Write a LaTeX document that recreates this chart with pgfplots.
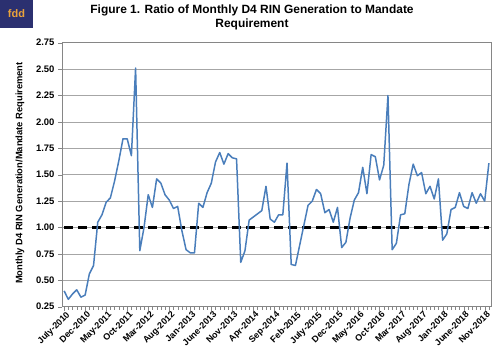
\documentclass[border=0pt]{standalone}
\usepackage{pgfplots}
\pgfplotsset{compat=1.18}
\usepackage{fontspec}
\setmainfont{Liberation Sans}
\definecolor{lineblue}{HTML}{4A7EBB}
\definecolor{gridgray}{HTML}{A6A6A6}
\definecolor{framegray}{HTML}{868686}
\definecolor{logonavy}{HTML}{2B3070}
\definecolor{logoorange}{HTML}{E9A23B}
\pgfplotstableread{
i val
0 0.40
1 0.32
2 0.37
3 0.41
4 0.34
5 0.36
6 0.56
7 0.64
8 1.05
9 1.12
10 1.24
11 1.28
12 1.44
13 1.63
14 1.84
15 1.84
16 1.68
17 2.51
18 0.78
19 1.00
20 1.31
21 1.19
22 1.46
23 1.42
24 1.31
25 1.26
26 1.18
27 1.20
28 0.97
29 0.79
30 0.76
31 0.76
32 1.23
33 1.19
34 1.33
35 1.42
36 1.62
37 1.71
38 1.60
39 1.70
40 1.66
41 1.65
42 0.67
43 0.78
44 1.07
45 1.10
46 1.13
47 1.16
48 1.39
49 1.08
50 1.05
51 1.12
52 1.12
53 1.61
54 0.65
55 0.64
56 0.83
57 1.02
58 1.21
59 1.25
60 1.36
61 1.32
62 1.14
63 1.17
64 1.05
65 1.19
66 0.81
67 0.86
68 1.09
69 1.26
70 1.33
71 1.57
72 1.32
73 1.69
74 1.67
75 1.45
76 1.59
77 2.25
78 0.79
79 0.85
80 1.12
81 1.13
82 1.41
83 1.60
84 1.49
85 1.52
86 1.32
87 1.39
88 1.27
89 1.46
90 0.88
91 0.94
92 1.17
93 1.19
94 1.33
95 1.20
96 1.18
97 1.33
98 1.23
99 1.32
100 1.25
101 1.61
}\ratio
\begin{document}
\begin{tikzpicture}
\path[use as bounding box] (0bp,0bp) rectangle (500bp,359bp);
\fill[logonavy] (0bp,331bp) rectangle (33bp,359bp);
\node[text=logoorange, font=\bfseries\fontsize{11}{12}\selectfont] at (16.5bp,345bp) {fdd};
\node[align=center, font=\bfseries\fontsize{12}{14.5}\selectfont] at (252bp,341.5bp) {Figure 1. Ratio of Monthly D4 RIN Generation to Mandate\\Requirement};
\node[rotate=90, font=\bfseries\fontsize{9.4}{10}\selectfont] at (20bp,186bp) {Monthly D4 RIN Generation/Mandate Requirement};
\begin{axis}[
  at={(62bp,52.3bp)}, anchor=south west,
  scale only axis, width=429bp, height=264bp,
  xmin=-0.5, xmax=101.5, ymin=0.25, ymax=2.75,
  ytick={0.25,0.5,...,2.75},
  xtick={0,5,...,100},
  minor xtick={0,1,...,101},
  xticklabels={July-2010,Dec-2010,May-2011,Oct-2011,Mar-2012,Aug-2012,Jan-2013,June-2013,Nov-2013,Apr-2014,Sep-2014,Feb-2015,July-2015,Dec-2015,May-2016,Oct-2016,Mar-2017,Aug-2017,Jan-2018,June-2018,Nov-2018},
  xticklabel style={rotate=45, anchor=north east, font=\bfseries\fontsize{9}{10}\selectfont, inner sep=1pt, xshift=2bp},
  yticklabel style={font=\bfseries\fontsize{9.5}{10}\selectfont},
  /pgf/number format/assume math mode=true,
  yticklabel={\pgfmathprintnumber[fixed,fixed zerofill,precision=2]{\tick}},
  ymajorgrids, major grid style={gridgray, line width=0.8pt},
  tick align=outside, major tick length=4bp, minor tick length=3bp,
  xtick style={framegray}, ytick style={framegray},
  axis line style={framegray, line width=0.8pt},
  tick pos=left,
  clip=false,
]
\addplot[black, line width=2.4pt, dash pattern=on 9bp off 5bp] coordinates {(0,1) (101,1)};
\addplot[lineblue, line width=1.5pt, line join=round] table[x=i, y=val] {\ratio};
\end{axis}
\end{tikzpicture}
\end{document}
